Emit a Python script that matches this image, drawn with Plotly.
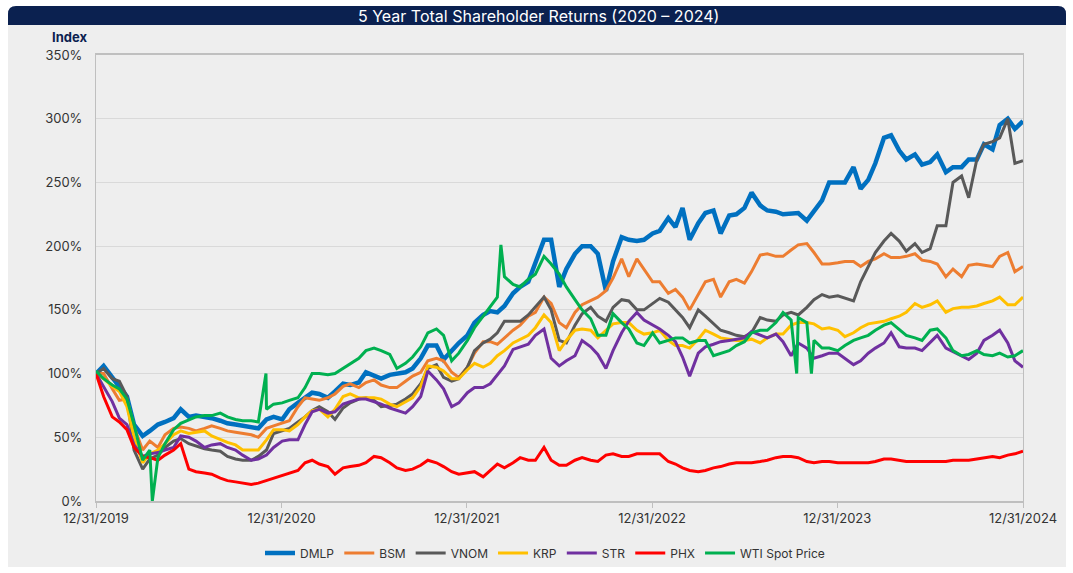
import plotly.graph_objects as go
import pandas as pd

# ---- semi-monthly date grid (12/31/2019 ... 12/31/2024) ----
dates = ["2019-12-31"]
for yr in range(2020, 2025):
    for mo in range(1, 13):
        if not (yr == 2020 and mo == 1):
            dates.append(f"{yr}-{mo:02d}-01")
        dates.append(f"{yr}-{mo:02d}-15")
dates.append("2024-12-31")

dmlp = [100,106,97,90,82,60,51,55,60,62,
        65,72,66,67,66,65,63,61,60,59,
        58,57,64,66,64,72,77,81,85,84,
        81,86,92,91,93,101,98,96,99,100,
        101,104,112,122,122,111,118,124,130,140,
        146,149,148,153,163,168,172,188,205,205,
        168,182,194,200,200,194,165,188,207,205,
        204,205,210,212,222,215,230,205,218,226,
        228,210,224,225,230,242,232,228,227,225,
        226,226,220,228,236,250,250,250,262,245,
        252,265,285,287,275,268,272,264,266,272,
        258,262,262,268,268,280,276,295,300,292,
        298]

bsm = [100,100,88,79,80,58,40,47,42,52,
       57,58,57,55,57,59,57,55,54,53,
       52,50,57,59,61,63,74,81,80,79,
       81,84,90,92,89,93,95,91,89,89,
       94,98,101,110,112,110,101,97,105,116,
       125,125,123,128,134,138,145,148,160,155,
       140,136,148,154,157,160,165,175,190,176,
       190,182,172,172,163,166,160,150,162,172,
       174,160,172,174,171,180,193,194,192,192,
       197,201,202,195,186,186,187,188,188,184,
       188,190,194,191,191,192,194,189,188,186,
       176,182,176,185,186,185,184,192,195,180,
       184]

vnom = [100,104,96,94,82,40,25,33,36,42,
        47,49,45,43,41,40,39,35,33,32,
        32,35,40,53,55,57,62,66,71,74,
        70,64,73,77,80,81,79,74,75,76,
        80,84,92,104,107,97,94,96,105,118,
        124,127,132,141,141,141,146,152,160,150,
        126,124,138,147,152,145,141,152,158,157,
        150,150,155,159,156,150,144,136,150,145,
        139,134,132,130,129,132,144,142,141,146,
        148,146,152,158,162,160,161,159,157,172,
        184,195,204,210,204,196,202,195,198,216,
        216,250,255,238,268,280,282,285,300,265,
        267]

krp = [100,96,90,86,74,50,30,37,40,45,
       52,55,53,54,55,51,48,46,44,40,
       40,40,48,56,56,55,60,66,71,72,
       66,72,82,84,81,81,81,80,76,74,
       78,81,90,106,105,102,96,96,103,108,
       105,108,114,118,124,127,130,136,146,140,
       118,126,134,135,134,128,134,139,140,140,
       134,131,132,134,126,122,122,120,127,134,
       131,128,127,126,126,127,124,128,131,131,
       138,140,140,139,135,136,134,129,132,136,
       139,140,141,143,145,148,155,152,154,157,
       148,151,152,152,153,155,157,160,154,154,
       160]

strx = [100,90,78,65,60,44,35,37,38,40,
        42,51,50,47,42,44,45,42,40,36,
        32,33,36,42,47,48,48,60,70,72,
        69,70,76,78,80,80,78,76,73,71,
        69,74,82,102,95,88,74,77,85,89,
        89,92,99,106,119,121,123,130,135,112,
        106,110,114,126,121,115,104,118,132,141,
        148,142,138,135,130,125,113,98,116,121,
        123,125,126,127,128,133,130,128,131,125,
        114,124,120,112,114,116,116,112,107,110,
        116,120,124,132,121,120,120,118,124,130,
        120,117,114,111,116,126,130,134,124,110,
        105]

phx = [100,82,66,62,56,42,35,34,32,36,
       40,45,25,23,22,21,18,16,15,14,
       13,14,16,18,20,22,24,30,32,29,
       27,21,26,27,28,30,35,34,30,26,
       24,25,28,32,30,27,23,21,22,23,
       19,24,29,26,30,34,32,32,42,32,
       28,28,32,34,32,31,36,37,35,35,
       37,37,37,37,31,29,26,24,23,24,
       26,27,29,30,30,30,31,32,34,35,
       35,34,31,30,31,31,30,30,30,30,
       30,31,33,33,32,31,31,31,31,31,
       31,32,32,32,33,34,35,34,36,37,
       39]

wti = [102,96,91,88,80,60,32,40,34,45,
       56,61,64,66,67,67,69,66,64,63,
       63,62,72,76,77,79,81,89,100,100,
       99,100,104,108,112,118,120,118,115,104,
       108,113,121,132,135,130,110,116,126,136,
       145,152,160,176,170,168,174,178,192,186,
       178,168,158,150,143,130,130,147,140,135,
       124,122,132,124,126,128,128,124,126,126,
       114,116,118,122,125,132,134,134,140,148,
       142,144,140,126,120,120,118,122,126,128,
       130,134,138,140,135,130,128,126,134,135,
       128,118,114,115,118,115,114,116,113,114,
       118]

# short-lived WTI spikes
wti_spike_dates = ["2020-04-20", "2020-11-30", "2022-03-08", "2023-10-12", "2023-11-10"]
wti_spike_vals = [0, 100, 201, 100, 100]

tick_dates = ["2019-12-31", "2020-12-31", "2021-12-31", "2022-12-31", "2023-12-31", "2024-12-31"]
tick_text = ["12/31/2019", "12/31/2020", "12/31/2021", "12/31/2022", "12/31/2023", "12/31/2024"]

series = [
    ("DMLP", dmlp, "#0070C0", 4.5),
    ("BSM", bsm, "#ED7D31", 3),
    ("VNOM", vnom, "#595959", 3),
    ("KRP", krp, "#FFC000", 3),
    ("STR", strx, "#7030A0", 3),
    ("PHX", phx, "#FF0000", 3),
]

fig = go.Figure()
for name, vals, color, w in series:
    fig.add_trace(go.Scatter(x=pd.to_datetime(dates), y=vals, name=name, mode="lines",
                             line=dict(color=color, width=w)))

wdf = pd.DataFrame({"d": pd.to_datetime(dates + wti_spike_dates), "v": wti + wti_spike_vals}).sort_values("d")
fig.add_trace(go.Scatter(x=wdf["d"], y=wdf["v"], name="WTI Spot Price", mode="lines",
                         line=dict(color="#00B050", width=3)))

W, H = 1073, 573
L, R, T, B = 96, 1023, 55, 501
pw, ph = R - L, B - T
def px(X): return (X - L) / pw
def py(Y): return (B - Y) / ph

card = "#eeeeee"
navy = "#0b2150"
rx, ry = 8 / pw, 8 / ph
x0, x1 = px(8), px(1066)
ty0, ty1 = py(25), py(6)
bar_path = (f"M {x0},{ty0} L {x0},{ty1-ry} Q {x0},{ty1} {x0+rx},{ty1} "
            f"L {x1-rx},{ty1} Q {x1},{ty1} {x1},{ty1-ry} L {x1},{ty0} Z")

fig.update_layout(
    width=W, height=H,
    margin=dict(l=L, r=W - R, t=T, b=H - B, pad=0, autoexpand=False),
    paper_bgcolor="white", plot_bgcolor=card,
    font=dict(family="Inter, Lato, sans-serif", size=13, color="#333333"),
    showlegend=True,
    legend=dict(orientation="h", x=px(545), xanchor="center", y=py(553), yanchor="middle",
                font=dict(size=12, color="#333333"), bgcolor="rgba(0,0,0,0)",
                itemwidth=30, tracegroupgap=0),
    shapes=[
        dict(type="rect", xref="paper", yref="paper", x0=x0, x1=x1, y0=py(567), y1=py(25),
             fillcolor=card, line=dict(width=0), layer="below"),
        dict(type="path", xref="paper", yref="paper", path=bar_path,
             fillcolor=navy, line=dict(width=0), layer="above"),
    ],
    annotations=[
        dict(text="5 Year Total Shareholder Returns (2020 \u2013 2024)", xref="paper", yref="paper",
             x=px(538), y=py(16), xanchor="center", yanchor="middle", showarrow=False,
             font=dict(size=16, color="white")),
        dict(text="<b>Index</b>", xref="paper", yref="paper", x=px(50), y=py(37),
             xanchor="left", yanchor="middle", showarrow=False,
             font=dict(size=13, color=navy)),
    ],
    xaxis=dict(type="date", range=["2019-12-31", "2024-12-31"], tickvals=tick_dates, ticktext=tick_text,
               showgrid=False, showline=True, linecolor="#bfbfbf", linewidth=1.5, mirror=True,
               ticks="outside", ticklen=5, tickcolor="#bfbfbf", zeroline=False, automargin=False,
               tickfont=dict(size=13, color="#333333")),
    yaxis=dict(range=[0, 350], dtick=50, ticksuffix="%", showgrid=True, gridcolor="#d9d9d9",
               gridwidth=1, showline=True, linecolor="#bfbfbf", linewidth=1, mirror=True,
               zeroline=False, ticks="", ticklabelstandoff=10, automargin=False,
               tickfont=dict(size=13, color="#333333")),
)

fig.write_html("out.html")
